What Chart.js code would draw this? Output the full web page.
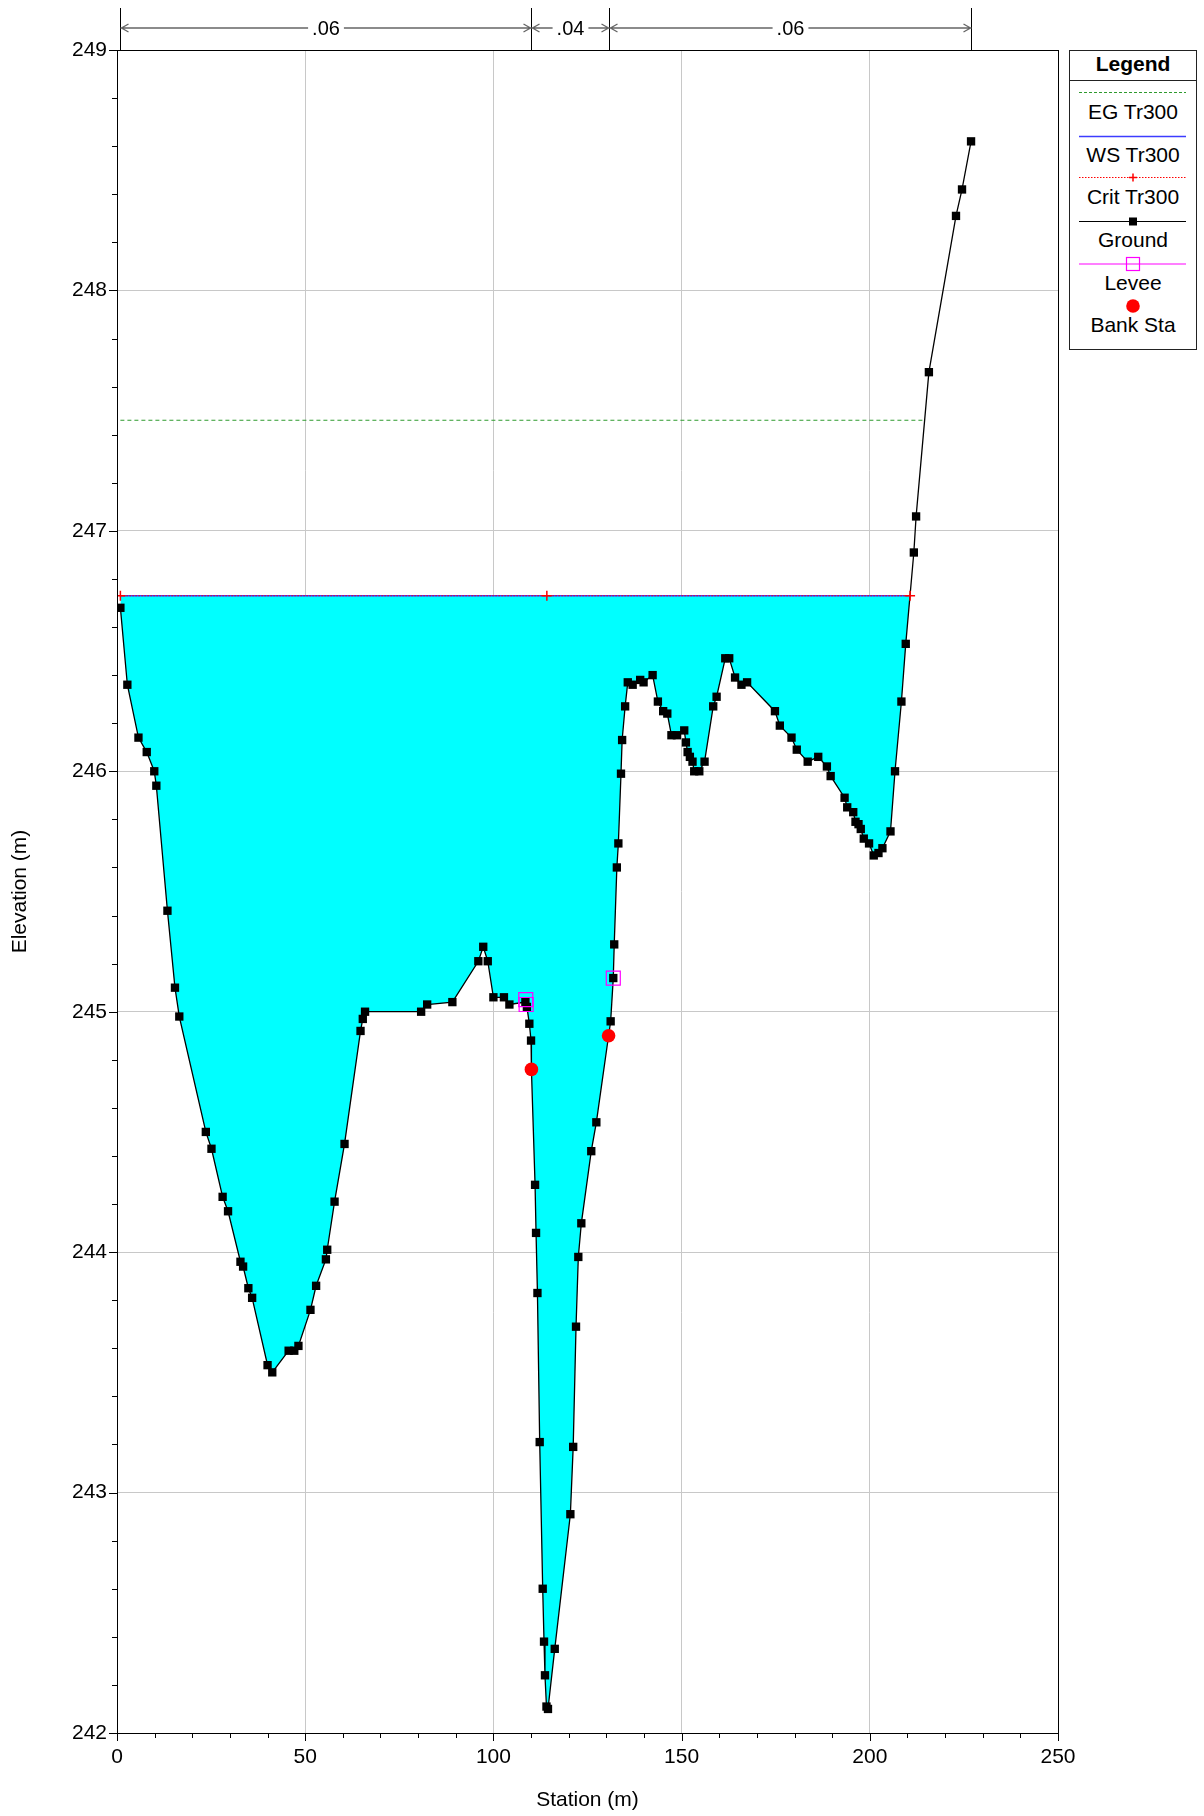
<!DOCTYPE html>
<html lang="en">
<head>
  <meta charset="UTF-8">
  <title>Cross Section</title>
  <script src="https://cdn.jsdelivr.net/npm/chart.js"></script>
  <style>
    body { margin: 0; background: #fff; }
    #wrap { position: relative; width: 1204px; height: 1816px; }
    #legend { position: absolute; left: 1069px; top: 50px; }
    #legend text { font-family: 'Liberation Sans', Arial, sans-serif; font-size: 21px; fill: #000; }
  </style>
</head>
<body>
  <div id="wrap">
    <canvas id="grafica"></canvas>
    <svg id="legend" width="128" height="300">
      <rect x="0.5" y="0.5" width="127" height="299" fill="#fff" stroke="#222" stroke-width="1"/>
      <text x="64" y="21" text-anchor="middle" style="font-weight:bold">Legend</text>
      <line x1="0" y1="30.5" x2="128" y2="30.5" stroke="#222"/>
      <line x1="10" y1="42.5" x2="117" y2="42.5" stroke="#2e9a2e" stroke-width="1.2" stroke-dasharray="3,2"/>
      <text x="64" y="69" text-anchor="middle">EG Tr300</text>
      <line x1="10" y1="86.5" x2="117" y2="86.5" stroke="#3c3cff" stroke-width="1.5"/>
      <text x="64" y="112" text-anchor="middle">WS Tr300</text>
      <line x1="10" y1="127.5" x2="117" y2="127.5" stroke="#ff0000" stroke-width="1" stroke-dasharray="1.5,1.5"/>
      <path d="M60 127.5 H68 M64 123.5 V131.5" stroke="#ff0000" stroke-width="1.5"/>
      <text x="64" y="154" text-anchor="middle">Crit Tr300</text>
      <line x1="10" y1="171.5" x2="117" y2="171.5" stroke="#000" stroke-width="1.2"/>
      <rect x="60" y="167.5" width="8" height="8" fill="#000"/>
      <text x="64" y="197" text-anchor="middle">Ground</text>
      <line x1="10" y1="214" x2="117" y2="214" stroke="#ff00ff" stroke-width="1.2"/>
      <rect x="57.5" y="207.5" width="13" height="13" fill="none" stroke="#ff00ff" stroke-width="1.2"/>
      <text x="64" y="240" text-anchor="middle">Levee</text>
      <circle cx="64" cy="256" r="6.8" fill="#ff0000"/>
      <text x="64" y="282" text-anchor="middle">Bank Sta</text>
    </svg>
  </div>

  <script>
    // ground points
    const groundSta = [0.9, 2.75, 5.7, 7.9, 9.9, 10.45, 13.4, 15.4, 16.55, 23.6,
      25.1, 28.06, 29.5, 32.8, 33.5, 34.9, 35.9, 40.0, 41.25, 45.6,
      47.1, 48.2, 51.4, 52.9, 55.5, 55.85, 57.8, 60.45, 64.7, 65.3,
      65.9, 80.8, 82.4, 89.1, 96.0, 97.3, 98.5, 100.0, 102.8, 104.25,
      108.5, 108.9, 109.55, 110.0, 110.1, 111.07, 111.33, 111.7, 112.3, 113.1,
      113.45, 113.7, 114.1, 114.5, 116.3, 120.45, 121.2, 121.95, 122.56, 123.36,
      126.0, 127.35, 130.6, 131.15, 131.85, 132.1, 132.8, 133.2, 133.9, 134.2,
      135.0, 135.7, 137.0, 139.0, 139.9, 142.3, 143.7, 145.1, 146.2, 147.3,
      148.75, 150.7, 151.15, 151.6, 152.2, 152.9, 153.35, 154.7, 156.1, 158.4,
      159.3, 161.6, 162.65, 164.2, 165.9, 167.4, 174.8, 176.1, 179.2, 180.6,
      183.5, 186.3, 188.6, 189.6, 193.3, 194.0, 195.6, 196.2, 197.0, 197.6,
      198.4, 199.8, 201.05, 202.3, 203.35, 205.5, 206.7, 208.4, 209.55, 211.7,
      212.3, 215.7, 222.9, 224.5, 226.9];
    const groundElev = [246.68, 246.36, 246.14, 246.08, 246.00, 245.94, 245.42, 245.10, 244.98, 244.50,
      244.43, 244.23, 244.17, 243.96, 243.94, 243.85, 243.81, 243.53, 243.50, 243.59,
      243.59, 243.61, 243.76, 243.86, 243.97, 244.01, 244.21, 244.45, 244.92, 244.97,
      245.00, 245.00, 245.03, 245.04, 245.21, 245.27, 245.21, 245.06, 245.06, 245.03,
      245.04, 245.02, 244.95, 244.88, 244.76, 244.28, 244.08, 243.83, 243.21, 242.60,
      242.38, 242.24, 242.11, 242.10, 242.35, 242.91, 243.19, 243.69, 243.98, 244.12,
      244.42, 244.54, 244.90, 244.96, 245.14, 245.28, 245.60, 245.70, 245.99, 246.13,
      246.27, 246.37, 246.36, 246.38, 246.37, 246.40, 246.29, 246.25, 246.24, 246.15,
      246.15, 246.17, 246.12, 246.08, 246.06, 246.04, 246.00, 246.00, 246.04, 246.27,
      246.31, 246.47, 246.47, 246.39, 246.36, 246.37, 246.25, 246.19, 246.14, 246.09,
      246.04, 246.06, 246.02, 245.98, 245.89, 245.85, 245.83, 245.79, 245.78, 245.76,
      245.72, 245.70, 245.65, 245.66, 245.68, 245.75, 246.00, 246.29, 246.53, 246.91,
      247.06, 247.66, 248.31, 248.42, 248.62];

    const wsSta = [0.9, 210.7];
    const wsElev = [246.73, 246.73];
    const critSta = [0.9, 114.2, 210.7];
    const critElev = [246.73, 246.73, 246.73];
    const egSta = [0.9, 214.6];
    const egElev = [247.46, 247.46];
    const leveeSta = [108.6, 108.7, 131.85];
    const leveeElev = [245.05, 245.03, 245.14];
    const bankSta = [110.1, 130.6];
    const bankElev = [244.76, 244.90];

    // Manning n strip along the top
    const nBreaks = [0.9, 110.1, 130.6, 226.9];
    const nValues = ['.06', '.04', '.06'];

    const xTicksMajor = 50;
    const FONT = "'Liberation Sans', Arial, sans-serif";

    function pares(xs, ys) {
      return xs.map((v, i) => ({ x: v, y: ys[i] }));
    }
    function esEntero(v) {
      return Math.abs(v - Math.round(v)) < 1e-6;
    }

    const marco = {
      id: 'marco',
      afterDraw(chart) {
        const { ctx, chartArea: a, scales: { x, y } } = chart;
        ctx.save();
        ctx.strokeStyle = '#000';
        ctx.lineWidth = 1;
        ctx.strokeRect(a.left + 0.5, a.top + 0.5, a.right - a.left, a.bottom - a.top);

        // tick marks, long for labelled ones
        ctx.beginPath();
        x.ticks.forEach(t => {
          const px = Math.round(x.getPixelForValue(t.value)) + 0.5;
          const len = t.value % xTicksMajor === 0 ? 8 : 5;
          ctx.moveTo(px, a.bottom);
          ctx.lineTo(px, a.bottom + len);
        });
        y.ticks.forEach(t => {
          const py = Math.round(y.getPixelForValue(t.value)) + 0.5;
          const len = esEntero(t.value) ? 8 : 5;
          ctx.moveTo(a.left, py);
          ctx.lineTo(a.left - len, py);
        });
        ctx.stroke();

        // n values
        const yTop = a.top - 42, yArr = a.top - 22;
        const px = s => Math.round(x.getPixelForValue(s)) + 0.5;
        ctx.beginPath();
        nBreaks.forEach(s => {
          ctx.moveTo(px(s), yTop);
          ctx.lineTo(px(s), a.top);
        });
        ctx.stroke();
        ctx.font = '20px ' + FONT;
        ctx.textAlign = 'center';
        ctx.textBaseline = 'middle';
        for (let i = 0; i < nValues.length; i++) {
          const x0 = px(nBreaks[i]), x1 = px(nBreaks[i + 1]);
          ctx.strokeStyle = '#666';
          ctx.lineWidth = 1.3;
          ctx.beginPath();
          ctx.moveTo(x0, yArr); ctx.lineTo(x1, yArr);
          ctx.moveTo(x0 + 8, yArr - 4); ctx.lineTo(x0 + 1, yArr); ctx.lineTo(x0 + 8, yArr + 4);
          ctx.moveTo(x1 - 8, yArr - 4); ctx.lineTo(x1 - 1, yArr); ctx.lineTo(x1 - 8, yArr + 4);
          ctx.stroke();
          const cx = (x0 + x1) / 2;
          const w = ctx.measureText(nValues[i]).width;
          ctx.fillStyle = '#fff';
          ctx.fillRect(cx - w / 2 - 4, yArr - 10, w + 8, 20);
          ctx.fillStyle = '#000';
          ctx.fillText(nValues[i], cx, yArr + 1);
        }
        ctx.restore();
      }
    };

    const ctx = document.getElementById('grafica').getContext('2d');
    new Chart(ctx, {
      type: 'line',
      data: {
        datasets: [
          {
            label: 'Bank Sta',
            data: pares(bankSta, bankElev),
            showLine: false,
            pointStyle: 'circle',
            pointRadius: 6.8,
            pointBackgroundColor: '#ff0000',
            pointBorderWidth: 0
          },
          {
            label: 'Levee',
            data: pares(leveeSta, leveeElev),
            showLine: false,
            pointStyle: 'rect',
            pointRadius: 9.9,
            pointBackgroundColor: 'rgba(0,0,0,0)',
            pointBorderColor: '#ff00ff',
            pointBorderWidth: 1.2
          },
          {
            label: 'Crit Tr300',
            data: pares(critSta, critElev),
            borderColor: '#ff0000',
            borderWidth: 1,
            borderDash: [1.5, 1.5],
            pointStyle: 'cross',
            pointRadius: 5,
            pointBorderColor: '#ff0000',
            pointBorderWidth: 1.5
          },
          {
            label: 'WS Tr300',
            data: pares(wsSta, wsElev),
            borderColor: '#3c3cff',
            borderWidth: 1.5,
            pointRadius: 0
          },
          {
            label: 'EG Tr300',
            data: pares(egSta, egElev),
            borderColor: '#2e9a2e',
            borderWidth: 1.2,
            borderDash: [4, 3],
            pointRadius: 0
          },
          {
            label: 'Ground',
            data: pares(groundSta, groundElev),
            borderColor: '#000',
            borderWidth: 1.3,
            backgroundColor: '#00ffff',
            fill: { target: 3, above: '#00ffff', below: '#00ffff' },
            pointStyle: 'rect',
            pointRadius: 5.9,
            pointBackgroundColor: '#000',
            pointBorderColor: '#000',
            pointBorderWidth: 0
          }
        ]
      },
      options: {
        responsive: true,
        maintainAspectRatio: false,
        animation: false,
        events: [],
        layout: { padding: { top: 50, right: 146, left: 0, bottom: 0 } },
        plugins: {
          legend: { display: false },
          tooltip: { enabled: false }
        },
        scales: {
          x: {
            type: 'linear',
            min: 0,
            max: 250,
            afterFit: s => { s.height = 83; },
            ticks: {
              stepSize: 10,
              autoSkip: false,
              maxRotation: 0,
              padding: 12,
              color: '#000',
              font: { family: FONT, size: 21 },
              callback: v => (v % xTicksMajor === 0 ? String(v) : '')
            },
            grid: {
              drawTicks: false,
              color: c => (c.tick && c.tick.value % xTicksMajor === 0 ? '#c8c8c8' : 'rgba(0,0,0,0)'),
              lineWidth: 1
            },
            border: { display: true, color: '#000', width: 1 },
            title: {
              display: true,
              text: 'Station (m)',
              color: '#000',
              font: { family: FONT, size: 21 },
              padding: { top: 0, bottom: 3 }
            }
          },
          y: {
            type: 'linear',
            min: 242,
            max: 249,
            afterFit: s => { s.width = 117; },
            ticks: {
              stepSize: 0.2,
              autoSkip: false,
              padding: 10,
              color: '#000',
              font: { family: FONT, size: 21 },
              callback: v => (esEntero(v) ? String(Math.round(v)) : '')
            },
            grid: {
              drawTicks: false,
              color: c => (c.tick && esEntero(c.tick.value) ? '#c8c8c8' : 'rgba(0,0,0,0)'),
              lineWidth: 1
            },
            border: { display: true, color: '#000', width: 1 },
            title: {
              display: true,
              text: 'Elevation (m)',
              color: '#000',
              font: { family: FONT, size: 21 },
              padding: { top: 8, bottom: 0 }
            }
          }
        }
      },
      plugins: [marco]
    });
  </script>
</body>
</html>
